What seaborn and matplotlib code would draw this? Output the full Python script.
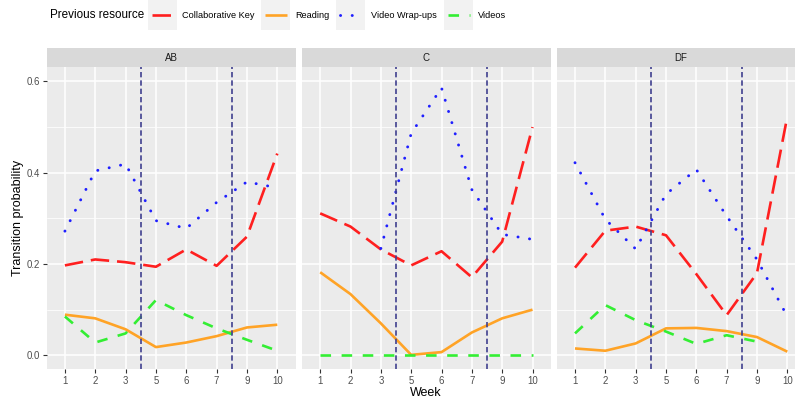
import numpy as np
import pandas as pd
import matplotlib.pyplot as plt
import seaborn as sns
from matplotlib.lines import Line2D
from matplotlib.patches import Rectangle

# data
weeks = [1, 2, 3, 5, 6, 7, 9, 10]
groups = ['AB', 'C', 'DF']
resources = ['Collaborative Key', 'Reading', 'Video Wrap-ups', 'Videos']

ab_collab = [0.197, 0.210, 0.204, 0.194, 0.232, 0.196, 0.260, 0.442]
ab_reading = [0.089, 0.081, 0.057, 0.018, 0.028, 0.042, 0.061, 0.067]
ab_wrapups = [0.272, 0.404, 0.419, 0.295, 0.278, 0.335, 0.380, 0.367]
ab_videos = [0.085, 0.028, 0.048, 0.121, 0.088, 0.059, 0.034, 0.010]

c_collab = [0.311, 0.282, 0.232, 0.197, 0.228, 0.171, 0.249, 0.500]
c_reading = [0.182, 0.134, 0.070, 0.001, 0.007, 0.050, 0.081, 0.100]
c_wrapups = [np.nan, np.nan, 0.234, 0.486, 0.586, 0.363, 0.265, 0.254]
c_videos = [0.0, 0.0, 0.0, 0.0, 0.0, 0.0, 0.0, 0.0]

df_collab = [0.192, 0.273, 0.282, 0.263, 0.178, 0.088, 0.180, 0.523]
df_reading = [0.015, 0.010, 0.026, 0.059, 0.060, 0.053, 0.040, 0.008]
df_wrapups = [0.422, 0.298, 0.233, 0.353, 0.407, 0.305, 0.210, 0.085]
df_videos = [0.048, 0.110, 0.077, 0.052, 0.025, 0.044, 0.030, np.nan]

series = {
    'AB': [ab_collab, ab_reading, ab_wrapups, ab_videos],
    'C': [c_collab, c_reading, c_wrapups, c_videos],
    'DF': [df_collab, df_reading, df_wrapups, df_videos],
}

rows = []
for g in groups:
    for res, vals in zip(resources, series[g]):
        for i, (w, v) in enumerate(zip(weeks, vals)):
            if not np.isnan(v):
                rows.append({'group': g, 'resource': res, 'pos': i, 'week': w, 'prob': v})
data = pd.DataFrame(rows)

palette = {'Collaborative Key': '#FF1F1F', 'Reading': '#FFA326',
           'Video Wrap-ups': '#1F1FFF', 'Videos': '#33EE33'}
dashes = {'Collaborative Key': (7, 3), 'Reading': '', 'Video Wrap-ups': (0.05, 3.95),
          'Videos': (4, 4)}

sns.set_theme(style='darkgrid', rc={'axes.facecolor': '#EBEBEB'})
plt.rcParams['font.family'] = ['Liberation Sans', 'DejaVu Sans']

W, H = 795, 399
fig = plt.figure(figsize=(W / 100, H / 100), dpi=100)

# panel boxes in pixels (left, right), shared top/bottom
panel_x = [(46.7, 295.5), (302.0, 550.7), (556.8, 805.5)]
top, bottom = 67.3, 369.0
strip_top = 48.3

# week gaps -> vertical markers
gaps = [i - 0.5 for i in range(1, len(weeks)) if weeks[i] - weeks[i - 1] > 1]

for k, g in enumerate(groups):
    x0, x1 = panel_x[k]
    ax = fig.add_axes([x0 / W, 1 - bottom / H, (x1 - x0) / W, (bottom - top) / H])
    sub = data[data.group == g]
    sns.lineplot(data=sub, x='pos', y='prob', hue='resource', style='resource',
                 palette=palette, dashes=dashes, hue_order=resources, style_order=resources,
                 linewidth=1.9, legend=False, ax=ax, solid_capstyle='butt')
    for ln in ax.get_lines():
        if ln.get_color().lower() == '#1f1fff':
            ln.set_dash_capstyle('round')
            ln.set_linewidth(2.1)
    for gx in gaps:
        ax.axvline(gx, color='#40408F', linestyle=(0, (3.2, 1.8)), linewidth=1.2)
    ax.set_xlim(-0.6, len(weeks) - 0.4)
    ax.set_ylim(-0.030, 0.631)
    ax.set_xticks(range(len(weeks)))
    ax.set_xticklabels([str(w) for w in weeks])
    ax.set_yticks([0.0, 0.2, 0.4, 0.6])
    ax.set_yticks([0.1, 0.3, 0.5], minor=True)
    ax.grid(which='major', color='white', linewidth=1.1)
    ax.grid(which='minor', axis='y', color='white', linewidth=0.55)
    ax.set_axisbelow(True)
    ax.tick_params(axis='both', which='major', length=2.8, width=0.8, color='#333333',
                   labelsize=6.9, labelcolor='#4D4D4D', pad=2)
    ax.tick_params(which='minor', length=0)
    ax.tick_params(axis='x', bottom=True)
    if k == 0:
        ax.tick_params(axis='y', left=True)
        ax.set_yticklabels(['0.0', '0.2', '0.4', '0.6'])
    else:
        ax.tick_params(axis='y', left=False, labelleft=False)
    ax.set_xlabel('')
    ax.set_ylabel('')
    for s in ax.spines.values():
        s.set_visible(False)

    # strip
    fig.patches.append(Rectangle((x0 / W, 1 - top / H), (x1 - x0) / W, (top - strip_top) / H,
                                 transform=fig.transFigure, facecolor='#D9D9D9',
                                 edgecolor='none', zorder=0))
    fig.text((x0 + x1) / 2 / W, 1 - (top + strip_top) / 2 / H, g, ha='center', va='center',
             fontsize=7, color='#1A1A1A')

fig.text(426 / W, 1 - 392.5 / H, 'Week', ha='center', va='center', fontsize=9, color='black')
fig.text(18 / W, 1 - 218 / H, 'Transition probability', ha='center', va='center',
         rotation=90, fontsize=9, color='black')

# legend along the top
fig.text(50 / W, 1 - 15 / H, 'Previous resource', ha='left', va='center', fontsize=8.4,
         color='black')
keys = [(147.7, 182.3), (260.7, 295.7), (336.0, 371.0), (444.3, 478.0)]
for res, (kx, lx) in zip(resources, keys):
    fig.patches.append(Rectangle((kx / W, 1 - 30 / H), 29 / W, 30 / H,
                                 transform=fig.transFigure, facecolor='#F2F2F2',
                                 edgecolor='none'))
    d = dashes[res]
    ls = '-' if d == '' else (0, d)
    ln = Line2D([(kx + 4) / W, (kx + 26) / W], [1 - 15 / H, 1 - 15 / H],
                transform=fig.transFigure, color=palette[res], linestyle=ls,
                linewidth=2.1 if res == 'Video Wrap-ups' else 1.9, solid_capstyle='butt',
                dash_capstyle='round' if res == 'Video Wrap-ups' else 'butt')
    fig.lines.append(ln)
    fig.text(lx / W, 1 - 15 / H, res, ha='left', va='center', fontsize=6.6, color='black')

fig.savefig('out.png', dpi=100)
